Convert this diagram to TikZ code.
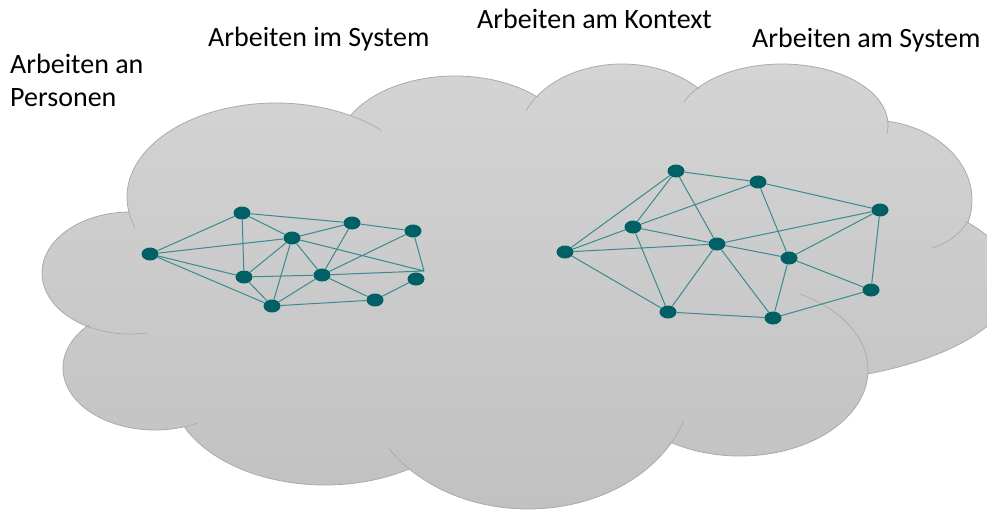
\documentclass[tikz,border=0pt]{standalone}
\usepackage{fontspec}
\setmainfont{Carlito}
\usetikzlibrary{shapes.geometric}
\definecolor{cloudtop}{RGB}{212,212,212}
\definecolor{cloudbottom}{RGB}{193,193,193}
\definecolor{cloudedge}{RGB}{170,170,170}
\definecolor{netnode}{RGB}{0,96,102}
\definecolor{netedge}{RGB}{58,138,143}
\begin{document}
\begin{tikzpicture}[x=1pt, y=-1pt,
  dot/.style={ellipse, fill=netnode, minimum width=17pt, minimum height=13pt, inner sep=0pt},
  link/.style={draw=netedge, line width=1pt},
  seam/.style={draw=cloudedge, line width=0.7pt},
  heading/.style={anchor=base west, inner sep=0pt, font=\fontsize{28}{32.5}\selectfont}]
\useasboundingbox (0,0) rectangle (987,511);

% cloud outline: one elliptical arc per lobe, clockwise from the left lobe
\path[draw=cloudedge, line width=0.8pt, top color=cloudtop, bottom color=cloudbottom]
  plot[domain=243:91.3, samples=40, variable=\t] ({130+88*cos(\t)}, {273-61*sin(\t)})
  -- plot[domain=189:60, samples=50, variable=\t] ({276+149*cos(\t)}, {197-94*sin(\t)})
  -- plot[domain=151.5:46, samples=40, variable=\t] ({455+118*cos(\t)}, {150-74*sin(\t)})
  -- plot[domain=145.3:42.7, samples=40, variable=\t] ({622+104*cos(\t)}, {140-76*sin(\t)})
  -- plot[domain=142.2:4.7, samples=50, variable=\t] ({782+106*cos(\t)}, {125-61*sin(\t)})
  -- plot[domain=80:-16, samples=40, variable=\t] ({870+102*cos(\t)}, {200-80*sin(\t)})
  -- plot[domain=35:-64.7, samples=50, variable=\t] ({758+255*cos(\t)}, {281-103*sin(\t)})
  -- plot[domain=-3:-122.5, samples=50, variable=\t] ({740+128*cos(\t)}, {370-86*sin(\t)})
  -- plot[domain=-29.8:-136.4, samples=50, variable=\t] ({528+164*cos(\t)}, {380-129*sin(\t)})
  -- plot[domain=-57.8:-154.5, samples=50, variable=\t] ({325+155*cos(\t)}, {385-100*sin(\t)})
  -- plot[domain=-71:-223.4, samples=50, variable=\t] ({155+92*cos(\t)}, {368-62*sin(\t)})
  -- cycle;

% short seams where lobes overlap
\draw[seam] plot[domain=-117:-79, samples=15, variable=\t] ({130+88*cos(\t)}, {273-61*sin(\t)});
\draw[seam] plot[domain=189:199, samples=8, variable=\t] ({276+149*cos(\t)}, {197-94*sin(\t)});
\draw[seam] plot[domain=60:45, samples=10, variable=\t] ({276+149*cos(\t)}, {197-94*sin(\t)});
\draw[seam] plot[domain=145.3:157, samples=8, variable=\t] ({622+104*cos(\t)}, {140-76*sin(\t)});
\draw[seam] plot[domain=142.2:158, samples=8, variable=\t] ({782+106*cos(\t)}, {125-61*sin(\t)});
\draw[seam] plot[domain=4.7:-8, samples=8, variable=\t] ({782+106*cos(\t)}, {125-61*sin(\t)});
\draw[seam] (967.5,222) .. controls (958,236) and (946,244) .. (932,248);
\draw[seam] plot[domain=-3:62, samples=30, variable=\t] ({740+128*cos(\t)}, {370-86*sin(\t)});
\draw[seam] plot[domain=-29.8:-18.5, samples=8, variable=\t] ({528+164*cos(\t)}, {380-129*sin(\t)});
\draw[seam] plot[domain=-136.4:-148, samples=8, variable=\t] ({528+164*cos(\t)}, {380-129*sin(\t)});
\draw[seam] plot[domain=-71:-62, samples=8, variable=\t] ({155+92*cos(\t)}, {368-62*sin(\t)});

% left network
\node[dot] (A) at (150,254) {};
\node[dot] (B) at (242,213) {};
\node[dot] (C) at (292,238) {};
\node[dot] (D) at (352,223) {};
\node[dot] (E) at (413,231) {};
\node[dot] (F) at (244,277) {};
\node[dot] (G) at (322,275) {};
\node[dot] (H) at (416,279) {};
\node[dot] (I) at (375,300) {};
\node[dot] (J) at (272,306) {};
\coordinate (K) at (424,271);
\path[link] (A) -- (B) (A) -- (C) (A) -- (F) (A) -- (J)
  (B) -- (D) (B) -- (C) (B) -- (F)
  (C) -- (D) (C) -- (F) (C) -- (J) (C) -- (G) (C) -- (K)
  (D) -- (G) (D) -- (E) (E) -- (G) (E) -- (K) (G) -- (K)
  (F) -- (G) (F) -- (J) (G) -- (J) (G) -- (I) (I) -- (H) (I) -- (J);

% right network
\node[dot] (a) at (565,252) {};
\node[dot] (b) at (676,171) {};
\node[dot] (c) at (758,182) {};
\node[dot] (d) at (880,210) {};
\node[dot] (e) at (633,227) {};
\node[dot] (f) at (717,244) {};
\node[dot] (g) at (789,258) {};
\node[dot] (h) at (871,290) {};
\node[dot] (i) at (668,312) {};
\node[dot] (j) at (773,318) {};
\path[link] (a) -- (b) (a) -- (e) (a) -- (f) (a) -- (i)
  (b) -- (e) (b) -- (c) (b) -- (f)
  (c) -- (e) (c) -- (d) (c) -- (g)
  (d) -- (f) (d) -- (g) (d) -- (h)
  (e) -- (f) (f) -- (g) (e) -- (i)
  (f) -- (i) (f) -- (j) (g) -- (j) (g) -- (h) (h) -- (j) (i) -- (j);

% headings
\node[heading] (personen) at (10,74) {\parbox[t]{200pt}{Arbeiten an\\Personen}};
\node[heading] (imsystem) at (208,47) {Arbeiten im System};
\node[heading] (kontext) at (477,29) {Arbeiten am Kontext};
\node[heading] (amsystem) at (752,48) {Arbeiten am System};
\end{tikzpicture}
\end{document}
